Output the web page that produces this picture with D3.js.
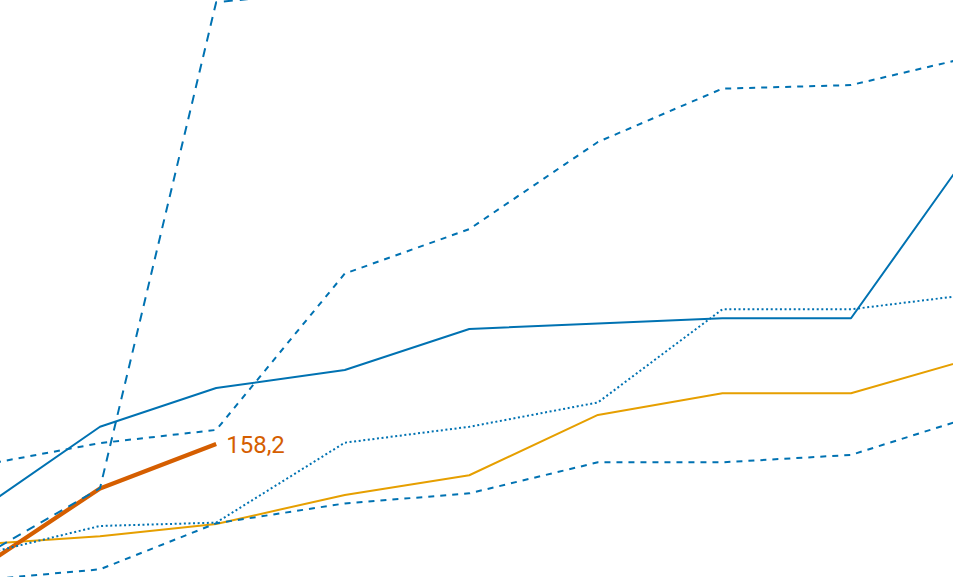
<!DOCTYPE html>
<html>
<head>
<meta charset="utf-8">
<script src="https://cdn.jsdelivr.net/npm/d3@7"></script>
<style>
  html, body { margin: 0; padding: 0; background: #fff; overflow: hidden; }
</style>
</head>
<body>
<div id="chart"></div>
<script>
// monthly values (Jan..Sep), index values
const months = ["2022-01-01", "2022-02-01", "2022-03-01", "2022-04-01", "2022-05-01",
                "2022-06-01", "2022-07-01", "2022-08-01", "2022-09-01"];

const solidBlue   = [126.1, 165.9, 183.3, 191.3, 209.7, 212.1, 214.5, 214.5, 295.3];
const dashedTop   = [147.9, 158.6, 164.5, 234.5, 254.4, 293.4, 317.3, 318.9, 332.4];
const dottedBlue  = [107.6, 121.5, 123.0, 158.8, 165.9, 176.8, 218.5, 218.5, 225.6];
const yellowLine  = [113.0, 116.9, 122.4, 135.4, 144.2, 171.2, 180.9, 180.9, 197.4];
const dashedLow   = [96.9, 102.1, 122.7, 131.6, 136.1, 150.0, 150.0, 153.3, 171.5];
const dashedSteep = [105.1, 138.4, 356.0, 361.4];
const currentYear = [100.0, 138.3, 158.2];

const width = 953;
const height = 577;

const parse = d3.timeParse("%Y-%m-%d");
const dates = months.map(parse);

const x = d3.scaleTime()
    .domain([dates[1], dates[7]])
    .range([100, 851]);

const y = d3.scaleLinear()
    .domain([100, 158.2])
    .range([574, 444]);

const de = d3.formatLocale({decimal: ",", thousands: ".", grouping: [3], currency: ["", " €"]});
const fmt = de.format(".1f");

const svg = d3.select("#chart").append("svg")
    .attr("width", width)
    .attr("height", height)
    .style("display", "block");

const line = d3.line()
    .x(function(d, i){ return x(dates[i]) })
    .y(function(d){ return y(d) });

const series = [
    {values: yellowLine,  color: "#E69F00", width: 2,   dash: null},
    {values: currentYear, color: "#D55E00", width: 4.2, dash: null},
    {values: solidBlue,   color: "#0072B2", width: 2,   dash: null},
    {values: dottedBlue,  color: "#0072B2", width: 2,   dash: "2,2.6"},
    {values: dashedTop,   color: "#0072B2", width: 2,   dash: "6,6"},
    {values: dashedLow,   color: "#0072B2", width: 2,   dash: "6,6"},
    {values: dashedSteep, color: "#0072B2", width: 2,   dash: "9,7"}
];

svg.append("g")
    .selectAll("path")
    .data(series)
    .enter()
    .append("path")
    .attr("d", function(d){ return line(d.values) })
    .attr("fill", "none")
    .attr("stroke", function(d){ return d.color })
    .attr("stroke-width", function(d){ return d.width })
    .attr("stroke-dasharray", function(d){ return d.dash })
    .attr("stroke-linejoin", "round");

// label at the last point of the current year
const last = currentYear.length - 1;
svg.append("text")
    .attr("x", x(dates[last]) + 10)
    .attr("y", y(currentYear[last]))
    .attr("dy", "0.36em")
    .attr("fill", "#D55E00")
    .style("font-family", "Roboto, sans-serif")
    .style("font-size", "24px")
    .text(fmt(currentYear[last]));
</script>
</body>
</html>
